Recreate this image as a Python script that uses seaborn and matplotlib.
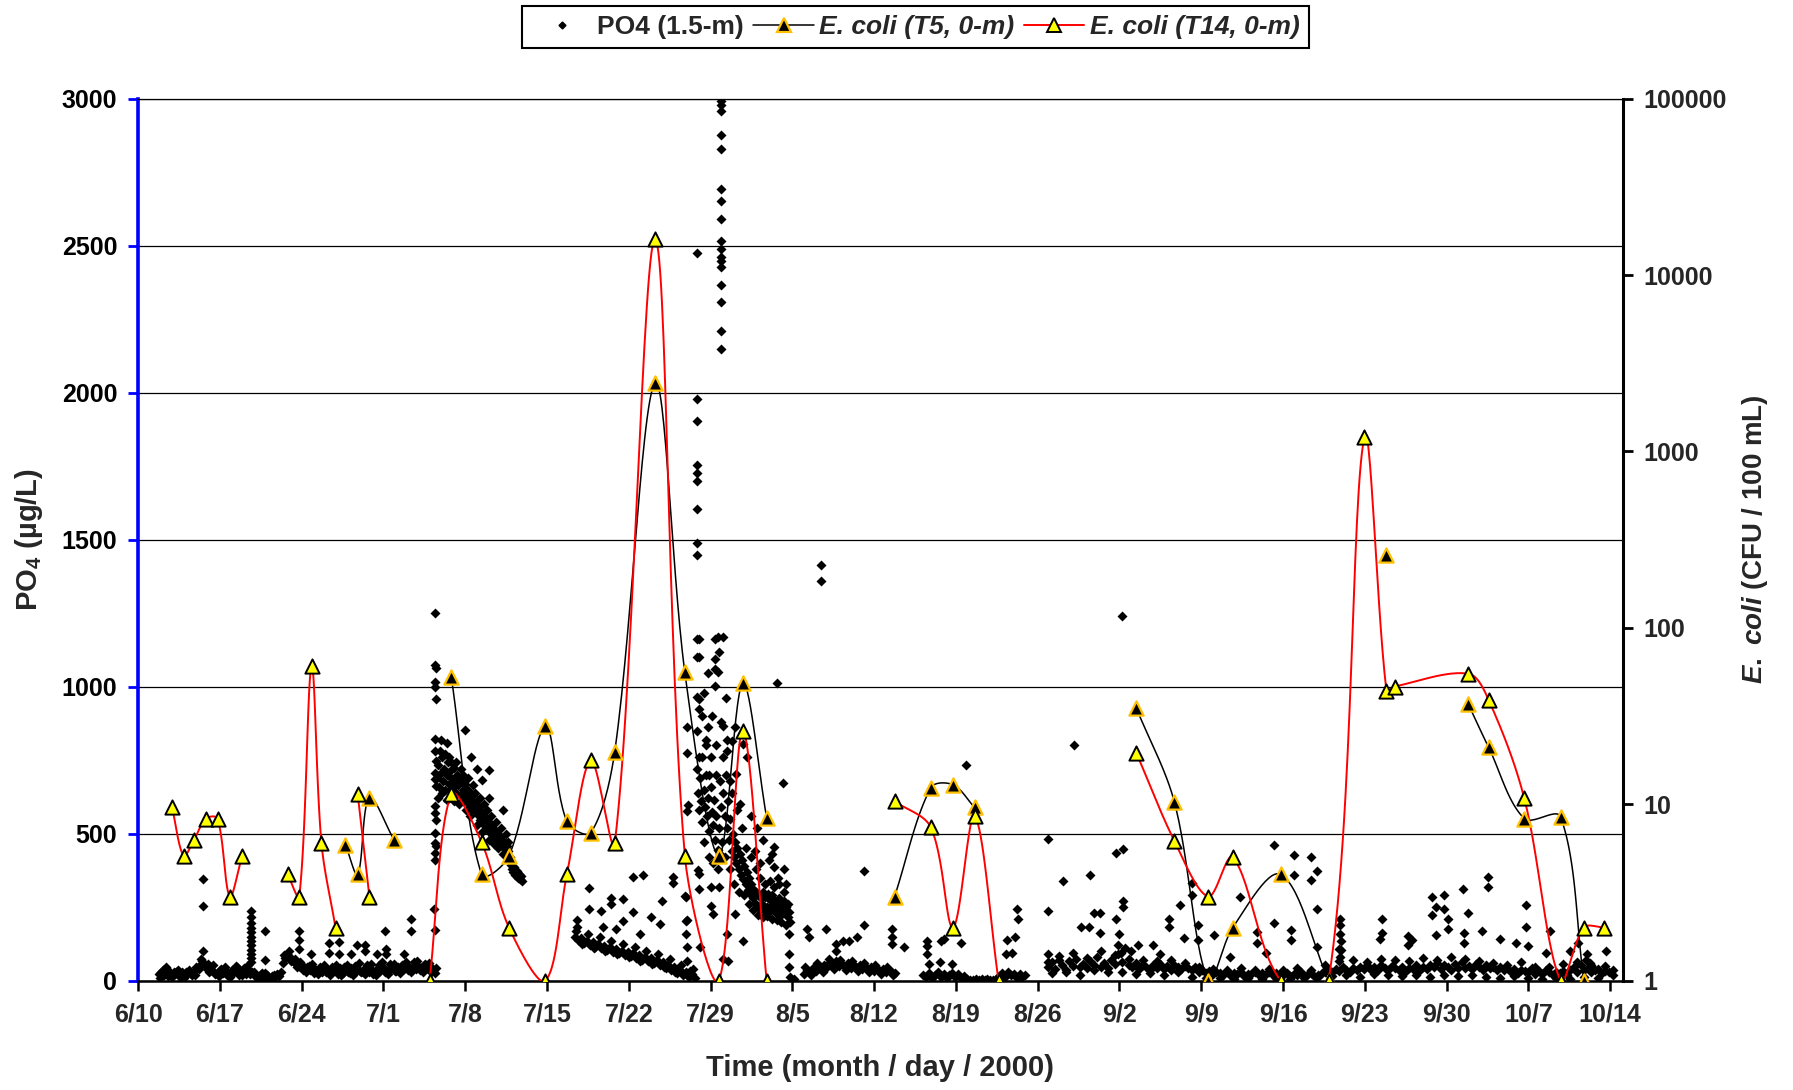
import numpy as np
import pandas as pd
import matplotlib
matplotlib.use("Agg")
import matplotlib.pyplot as plt
from matplotlib.lines import Line2D
from matplotlib.ticker import FixedLocator, FixedFormatter, NullLocator
import seaborn as sns

# ------------------------------------------------------------------
# Data (time axis = days after June 10, 2000)
# ------------------------------------------------------------------
date_ticks = [0, 7, 14, 21, 28, 35, 42, 49, 56, 63, 70, 77, 84, 91, 98, 105, 112, 119, 126]
date_labels = ["6/10", "6/17", "6/24", "7/1", "7/8", "7/15", "7/22", "7/29", "8/5", "8/12",
               "8/19", "8/26", "9/2", "9/9", "9/16", "9/23", "9/30", "10/7", "10/14"]
po4_ticks = [0, 500, 1000, 1500, 2000, 2500, 3000]
cfu_ticks = [1, 10, 100, 1000, 10000, 100000]
cfu_labels = ["1", "10", "100", "1000", "10000", "100000"]

# E. coli, station T14 (0 m); run = continuous sampling stretch
t14_day = [2.9, 3.9, 4.8, 5.8, 6.8, 7.85, 8.9,
           12.8, 13.8, 14.85, 15.7, 16.9,
           18.8, 19.8,
           24.95, 26.8, 29.4, 31.75, 34.85, 36.7, 38.75, 40.8, 44.25, 46.8, 49.7, 51.75, 53.8,
           64.75, 67.85, 69.75, 71.6, 73.65,
           85.45, 88.7, 91.6, 93.7, 97.8, 101.9, 104.95, 106.85, 107.55, 113.85, 115.6,
           118.65, 121.75, 123.75, 125.5]
t14_cfu = [9.7, 5.1, 6.3, 8.3, 8.3, 3.0, 5.1,
           4.0, 3.0, 61, 6.0, 2.0,
           11.4, 3.0,
           1, 11.4, 6.1, 2.0, 1, 4.0, 17.8, 6.0, 15960, 5.1, 1, 26, 1,
           10.4, 7.4, 2.0, 8.6, 1,
           19.5, 6.2, 3.0, 5.0, 1, 1, 1200, 44, 46.5, 55, 39,
           10.8, 1, 2.0, 2.0]
t14_run = [1] * 7 + [2] * 5 + [3] * 2 + [4] * 13 + [5] * 5 + [6] * 15

# E. coli, station T5 (0 m)
t5_day = [17.75, 18.8, 19.8, 21.9,
          26.8, 29.4, 31.75, 34.85, 36.7, 38.75, 40.8, 44.25, 46.8, 49.7, 51.75, 53.8,
          64.75, 67.85, 69.75, 71.6,
          85.45, 88.7, 91.6, 93.7, 97.8, 101.9,
          106.85,
          113.85, 115.6, 118.65, 121.75, 123.75]
t5_cfu = [5.9, 4.0, 10.9, 6.3,
          53, 4.0, 5.1, 27.6, 8.0, 6.9, 19.9, 2440, 56, 5.1, 48.5, 8.4,
          3.0, 12.4, 12.9, 9.6,
          35, 10.3, 1, 2.0, 4.0, 1,
          260,
          37, 21, 8.3, 8.5, 1]
t5_run = [1] * 4 + [2] * 12 + [3] * 4 + [4] * 6 + [5] + [6] * 5

# PO4 sonde record (1.5 m), regular logging stretches: (first day, interval in days, values)
po4_jun = [22, 31, 18, 40, 26, 19, 28, 22, 30, 20,
           26, 24, 33, 48, 40, 66, 52, 58, 38, 30,
           24, 36, 27, 33, 22, 38, 29, 45, 26, 31,
           24, 35, 28, 20, 14, 22, 10, 18, 8, 15,
           12, 20, 30, 88, 92, 80, 66, 58, 49, 52,
           42, 47, 38, 44, 35, 41, 30, 46, 34, 28,
           39, 31, 44, 27, 36, 30, 42, 26, 38, 33,
           29, 45, 31, 37, 28, 42, 34, 48, 30, 39,
           44, 33, 47, 36, 41, 52, 38, 46, 40, 49,
           42, 55, 44, 50, 38, 42]
po4_jun_b = [8, 45, 12, 38, 10, 35, 20, 75, 40, 55,
             15, 48, 14, 50, 18, 52, 30, 8, 25, 5,
             22, 60, 100, 75, 62, 28, 58, 22, 55, 20,
             52, 18, 55, 20, 60, 22, 56, 18, 62, 24,
             58, 25, 64, 30, 66, 28, 60, 25]
po4_jun_c = [35, 15, 30, 12, 28, 18, 45, 60, 30, 22,
             40, 20, 35, 18, 42, 22, 12, 25, 6, 18,
             15, 78, 68, 45, 35, 50, 25, 48, 28, 45,
             22, 48, 25, 50, 28, 55, 24, 52, 30, 58,
             32, 55, 35, 62, 38, 58, 30]
po4_jul_a = [690, 735, 660, 705, 760, 680, 720, 650, 700, 745,
             670, 712, 690, 655, 725, 680, 640, 700, 665, 690,
             630, 675, 650, 610, 668, 625, 648, 600, 640, 615,
             580, 630, 596, 572, 610, 565, 590, 545, 575, 540,
             560, 525, 552, 515, 540, 505, 528, 495, 520, 485,
             505, 478, 498, 470, 488, 460, 475, 450, 468, 445,
             458, 440, 420, 395, 380, 368, 385, 360, 372, 350,
             362, 345, 355, 338]
po4_jul_a2 = [620, 780, 640, 770, 615, 760, 740, 610, 745, 600,
              720, 700, 580, 690, 560, 665, 640, 530, 620, 505,
              600, 580, 480, 560, 465, 540, 450, 520, 430, 500, 470]
po4_jul_b = [150, 138, 145, 128, 136, 122, 131, 116, 124, 110,
             119, 105, 113, 98, 107, 95, 102, 88, 97, 84,
             93, 78, 88, 72, 82, 66, 76, 60, 70, 52,
             62, 44, 55, 35, 45, 25, 38, 18, 28, 12,
             22, 8]
po4_jul_b2 = [170, 125, 160, 112, 150, 100, 135, 90, 125, 80,
              115, 68, 100, 58, 90, 45, 75, 30, 55, 18, 40]
po4_jul_c = [720, 640, 580, 690, 610, 540, 650, 590, 700, 560,
             620, 510, 660, 575, 530, 615, 480, 560, 445, 520,
             430, 590, 470, 640, 560, 700, 520, 610, 480, 550,
             440, 500, 420, 470, 400, 450, 380, 430, 360, 410,
             345, 390, 330, 370, 310, 350, 295, 330, 280, 310,
             265, 300, 255, 290, 245, 280, 260, 300, 240, 285,
             250, 295, 235, 275, 255, 290, 240, 270, 230, 265,
             245, 280, 225, 260, 240, 270, 230, 250, 215, 235,
             200]
po4_jul_c2 = [850, 760, 900, 470, 800, 420, 760, 400, 700, 380,
              680, 760, 420, 820, 380, 640, 330, 580, 300, 520,
              290, 450, 260, 420, 240, 380, 225, 350, 215, 330,
              220, 340, 210, 320, 205, 330, 200, 300, 190, 260]
po4_aug_a = [22, 35, 28, 42, 33, 46, 38, 55, 48, 64,
             52, 66, 49, 58, 46, 60, 44, 55, 42, 52,
             39, 50, 36, 47, 33, 44, 30, 41, 28, 38,
             30, 26]
po4_aug_a2 = [45, 18, 60, 30, 75, 40, 70, 38, 66, 32,
              60, 28, 55, 22, 48, 20]
po4_aug_b = [20, 12, 25, 9, 18, 28, 14, 22, 10, 19,
             26, 13, 21, 8, 16, 6, 3, 1, 5, 2,
             4, 1, 6, 2, 3, 5, 15, 26, 12, 30,
             18, 24, 10, 22, 14, 20]
po4_sep = [48, 62, 40, 70, 55, 38, 66, 50, 74, 45,
           58, 42, 68, 52, 80, 47, 60, 44, 72, 56,
           90, 64, 110, 52, 48, 60, 40, 55, 46, 38,
           52, 44, 58, 40, 50, 36, 54, 45, 39, 50,
           42, 35, 47, 30, 38, 26, 33, 22, 30, 25,
           20, 28, 18, 26, 22, 30, 17, 24, 21, 28,
           19, 25, 22, 30, 18, 27, 23, 20, 26, 17,
           24, 20, 28, 16, 22, 26, 14, 20, 25, 30,
           35, 28, 40, 33, 45, 38, 30, 42, 36, 48,
           40, 52, 35, 46, 38, 55, 42, 36, 50, 44,
           38, 48, 34, 44, 40, 52, 37, 46, 41, 55,
           45, 60, 40, 52, 48, 38, 56, 44, 62, 42,
           50, 40, 58, 45, 36, 52, 42, 48, 38, 46,
           35, 44, 30, 40, 26, 38, 33, 28, 42, 24,
           32, 22, 36, 28, 18, 30, 25, 34, 20, 38,
           45, 30, 52, 38, 42, 28, 36, 40, 26, 34,
           30, 36]
po4_sep_b = [25, 85, 30, 95, 20, 78, 35, 100, 28, 88,
             30, 75, 22, 70, 25, 66, 20, 72, 28, 60,
             12, 45, 8, 40, 10, 36, 6, 42, 9, 38,
             7, 40, 10, 35, 5, 44, 8, 38, 12, 55,
             15, 68, 20, 72, 14, 65, 22, 75, 18, 70,
             16, 66, 20, 78, 12, 70, 18, 82, 15, 75,
             18, 68, 12, 60, 10, 55, 15, 62, 8, 48,
             6, 45, 10, 58, 5, 62, 12, 55, 8, 50,
             20]

po4_runs = [(1.75, 0.25, po4_jun), (1.9, 0.5, po4_jun_b), (2.1, 0.5, po4_jun_c),
            (25.6, 0.1, po4_jul_a), (25.65, 0.2, po4_jul_a2),
            (37.4, 0.25, po4_jul_b), (37.5, 0.5, po4_jul_b2),
            (47.8, 0.1, po4_jul_c), (47.85, 0.2, po4_jul_c2),
            (57.0, 0.25, po4_aug_a), (57.1, 0.5, po4_aug_a2), (67.2, 0.25, po4_aug_b),
            (77.9, 0.3, po4_sep), (78.2, 0.6, po4_sep_b)]

# PO4 isolated readings (day, ug/L)
spikes_jun = [(5.57, 345), (5.57, 255), (5.57, 100),
              (9.68, 238), (9.68, 215), (9.68, 196), (9.68, 180), (9.68, 165), (9.68, 150),
              (9.68, 136), (9.68, 120), (9.68, 106), (9.68, 92), (9.68, 78), (9.68, 64),
              (10.88, 170), (10.88, 71), (13.79, 168), (13.79, 138), (13.79, 108), (14.76, 91),
              (16.35, 127), (16.35, 93), (17.21, 133), (17.21, 91), (18.24, 91), (18.75, 121),
              (19.43, 121), (19.43, 100), (20.46, 91), (21.14, 168), (21.2, 108), (21.2, 91),
              (22.74, 91), (23.4, 210), (23.4, 168)]
spikes_jul = [(25.45, 1251), (25.4, 1073), (25.5, 1062), (25.45, 1016), (25.4, 999), (25.5, 959),
              (25.45, 822), (25.4, 782), (25.5, 748), (25.45, 708), (25.4, 685), (25.5, 662),
              (25.45, 594), (25.4, 571), (25.5, 548), (25.45, 502), (25.4, 468), (25.5, 457),
              (25.45, 434), (25.4, 411), (25.35, 245), (25.45, 171),
              (27.96, 854), (30.07, 716), (29.44, 681), (31.2, 580), (30.07, 622), (25.9, 820),
              (26.4, 810), (28.5, 760), (29.0, 720),
              (38.56, 314), (38.6, 244), (39.59, 236), (40.5, 280), (40.5, 262), (41.5, 277),
              (41.5, 203), (42.35, 232), (42.35, 354), (43.2, 360), (43.87, 217), (44.84, 272),
              (45.75, 354), (45.75, 331), (46.84, 288), (46.98, 208), (47.9, 377), (37.56, 205),
              (37.56, 183), (39.8, 183), (44.7, 194), (40.9, 175), (43.0, 160),
              (47.85, 2476), (47.85, 1979), (47.85, 1903), (47.85, 1754), (47.85, 1726),
              (47.85, 1701), (47.85, 1604), (47.85, 1490), (47.85, 1448), (47.85, 1163),
              (47.85, 1102), (47.85, 966),
              (49.9, 2993), (49.9, 2977), (49.9, 2958), (49.9, 2876), (49.9, 2829), (49.9, 2693),
              (49.9, 2651), (49.9, 2591), (49.9, 2517), (49.9, 2489), (49.9, 2463), (49.9, 2448),
              (49.9, 2428), (49.9, 2366), (49.9, 2309), (49.9, 2211), (49.9, 2149),
              (49.4, 1163), (49.4, 1095), (49.4, 1060), (49.7, 1117), (49.6, 1170), (49.6, 1050),
              (48.0, 1162), (48.0, 1100), (50.1, 1170), (48.8, 1045), (49.4, 1003), (48.0, 958),
              (48.0, 924), (48.8, 862), (50.1, 867), (47.0, 862), (47.0, 773), (47.1, 599),
              (47.0, 576), (48.0, 363), (48.0, 312), (49.0, 317), (49.7, 317), (49.0, 255),
              (49.25, 227), (48.1, 113), (50.1, 74), (46.9, 283), (46.9, 204), (46.9, 159),
              (47.0, 113), (47.0, 68), (47.26, 34)]
spikes_aug = [(55.2, 671), (54.7, 1011), (54.4, 453), (54.3, 431), (54.4, 385), (51.1, 227),
              (51.8, 136), (50.4, 159), (50.5, 68), (55.75, 159), (55.75, 91), (55.75, 45),
              (50.4, 782), (50.8, 816), (51.1, 862), (51.8, 805), (52.1, 760), (51.2, 703),
              (48.4, 980), (48.6, 820), (49.1, 900), (48.3, 760), (48.9, 700), (49.5, 800),
              (49.9, 880), (50.3, 960), (50.7, 680), (51.5, 600), (52.5, 560), (53.0, 520),
              (52.8, 440), (53.5, 480), (53.2, 400), (54.0, 410), (54.8, 350), (55.3, 380),
              (55.5, 330), (55.8, 11), (56.16, 6),
              (58.44, 1415), (58.44, 1361), (57.27, 175), (57.43, 147), (58.86, 175),
              (59.72, 125), (59.72, 102), (60.3, 136), (60.87, 136), (61.5, 147), (62.14, 188),
              (62.14, 374), (64.5, 175), (64.5, 147), (64.5, 125), (65.58, 113),
              (67.5, 136), (67.5, 119), (67.5, 91), (68.7, 136), (69.0, 142), (70.4, 128),
              (67.7, 57), (68.6, 62), (69.7, 57), (74.3, 91), (75.2, 244), (75.3, 210),
              (75.1, 147), (70.9, 732)]
spikes_sep = [(84.19, 1239), (80.08, 803), (77.86, 482), (83.7, 434), (84.27, 449), (79.2, 339),
              (81.45, 358), (77.86, 236), (74.4, 140), (74.8, 93), (81.4, 182), (81.85, 230),
              (82.3, 230), (82.3, 161), (83.7, 210), (84.27, 270), (84.27, 252), (85.55, 122),
              (86.9, 122), (88.26, 210), (88.26, 182), (89.2, 258), (89.5, 144), (90.2, 332),
              (90.2, 290), (90.7, 191), (90.7, 139), (92.06, 156), (94.3, 284), (95.8, 167),
              (95.8, 127), (97.2, 195), (97.2, 460), (98.9, 426), (98.9, 358), (98.7, 174),
              (98.7, 140), (77.86, 91), (77.86, 62), (83.9, 120), (84.0, 160), (84.1, 95),
              (85.0, 100), (87.5, 90), (93.5, 80), (96.5, 95), (80.7, 181)]
spikes_oct = [(100.36, 420), (100.36, 341), (100.87, 373), (100.87, 244), (100.87, 114),
              (102.86, 210), (102.86, 188), (102.86, 159), (102.78, 108), (103.0, 134),
              (103.0, 106), (102.9, 80), (106.5, 210), (106.5, 161), (106.34, 141),
              (108.73, 153), (109.07, 140), (108.73, 122), (110.78, 284), (110.78, 223),
              (111.1, 250), (111.1, 157), (111.8, 290), (111.8, 243), (112.15, 209),
              (112.15, 175), (113.38, 311), (113.86, 230), (113.52, 161), (113.52, 127),
              (115.06, 168), (115.57, 352), (115.57, 318), (116.6, 141), (117.96, 128),
              (118.82, 256), (118.82, 182), (119.0, 119), (120.87, 168), (120.53, 93),
              (122.58, 100), (123.26, 127), (125.66, 100), (124.0, 90), (123.9, 70), (124.3, 60)]

# ------------------------------------------------------------------
# Figure geometry used for curve smoothing (pixels per day / per decade)
# ------------------------------------------------------------------
FIG_W, FIG_H, DPI = 17.93, 10.90, 100
AX_RECT = [0.0770, 0.1003, 0.8282, 0.8092]
X_MAX = 127.1
PX_PER_DAY = AX_RECT[2] * FIG_W * DPI / X_MAX
PX_PER_DECADE = AX_RECT[3] * FIG_H * DPI / 5.0


def smooth_run(x, y, n=30, tension=1.0 / 3.0):
    """Distance-weighted Bezier smoothing through the points (screen space)."""
    pts = np.column_stack([np.asarray(x) * PX_PER_DAY, np.asarray(y) * PX_PER_DECADE])
    m = len(pts)
    if m < 2:
        return pts / [PX_PER_DAY, PX_PER_DECADE]
    before = pts.copy()
    after = pts.copy()
    for i in range(m):
        prev_p = pts[i - 1] if i > 0 else pts[i]
        next_p = pts[i + 1] if i < m - 1 else pts[i]
        d1 = np.hypot(*(pts[i] - prev_p))
        d2 = np.hypot(*(next_p - pts[i]))
        tot = d1 + d2
        if tot == 0:
            continue
        vec = next_p - prev_p
        before[i] = pts[i] - vec * tension * d1 / tot
        after[i] = pts[i] + vec * tension * d2 / tot
    t = np.linspace(0, 1, n)[:, None]
    out = []
    for i in range(m - 1):
        p1, c1, c2, p2 = pts[i], after[i], before[i + 1], pts[i + 1]
        seg = ((1 - t) ** 3) * p1 + 3 * ((1 - t) ** 2) * t * c1 + 3 * (1 - t) * t ** 2 * c2 + t ** 3 * p2
        out.append(seg if i == 0 else seg[1:])
    return np.vstack(out) / [PX_PER_DAY, PX_PER_DECADE]


def curve_frame(days, cfu, runs):
    df = pd.DataFrame({"day": days, "cfu": cfu, "run": runs})
    parts = []
    for r, g in df.groupby("run", sort=False):
        if len(g) < 2:
            continue
        c = smooth_run(g["day"].values, np.log10(g["cfu"].values))
        parts.append(pd.DataFrame({"day": c[:, 0], "cfu": 10 ** c[:, 1], "run": r}))
    return pd.concat(parts, ignore_index=True)


po4 = pd.concat(
    [pd.DataFrame({"day": s + d * np.arange(len(v)), "po4": v}) for s, d, v in po4_runs]
    + [pd.DataFrame(sp, columns=["day", "po4"]) for sp in
       (spikes_jun, spikes_jul, spikes_aug, spikes_sep, spikes_oct)],
    ignore_index=True)

t14 = pd.DataFrame({"day": t14_day, "cfu": t14_cfu})
t5 = pd.DataFrame({"day": t5_day, "cfu": t5_cfu})
t14_curve = curve_frame(t14_day, t14_cfu, t14_run)
t5_curve = curve_frame(t5_day, t5_cfu, t5_run)

# ------------------------------------------------------------------
# Figure
# ------------------------------------------------------------------
sns.set_style("white")
plt.rcParams["font.family"] = ["Liberation Sans", "DejaVu Sans"]
plt.rcParams["font.weight"] = "bold"
plt.rcParams["mathtext.fontset"] = "custom"
plt.rcParams["mathtext.rm"] = "Liberation Sans:bold"
plt.rcParams["mathtext.it"] = "Liberation Sans:italic:bold"
plt.rcParams["mathtext.bf"] = "Liberation Sans:bold"

GOLD = "#FFC000"
YELLOW = "#FFFF00"
BLUE = "#0000FF"

fig = plt.figure(figsize=(FIG_W, FIG_H), dpi=DPI)
fig.patch.set_facecolor("white")
ax = fig.add_axes(AX_RECT)

sns.scatterplot(data=po4, x="day", y="po4", ax=ax, marker="D", s=26, color="black",
                linewidth=0, legend=False, zorder=3)

ax.set_xlim(0, X_MAX)
ax.set_ylim(0, 3000)
ax.xaxis.set_major_locator(FixedLocator(date_ticks))
ax.xaxis.set_major_formatter(FixedFormatter(date_labels))
ax.yaxis.set_major_locator(FixedLocator(po4_ticks))
ax.yaxis.grid(True, color="black", linewidth=0.9)
ax.xaxis.grid(False)
ax.set_xlabel("")
ax.set_ylabel("")
ax.spines["left"].set_color(BLUE)
ax.spines["left"].set_linewidth(2.6)
ax.spines["bottom"].set_color("black")
ax.spines["bottom"].set_linewidth(1.8)
ax.spines["top"].set_visible(True)
ax.spines["top"].set_color("black")
ax.spines["top"].set_linewidth(0.9)
ax.spines["right"].set_visible(False)
ax.tick_params(axis="y", which="major", direction="out", length=7, width=2.0,
               color=BLUE, labelcolor="black", labelsize=18, pad=8, left=True)
ax.tick_params(axis="x", which="major", direction="out", length=7, width=1.8,
               color="black", labelsize=18, pad=9, bottom=True)

ax2 = ax.twinx()
ax2.set_yscale("log")
sns.lineplot(data=t5_curve, x="day", y="cfu", units="run", estimator=None, sort=False,
             color="black", linewidth=1.1, ax=ax2, legend=False, zorder=4)
sns.lineplot(data=t14_curve, x="day", y="cfu", units="run", estimator=None, sort=False,
             color="red", linewidth=1.4, ax=ax2, legend=False, zorder=5)
sns.scatterplot(data=t5, x="day", y="cfu", ax=ax2, marker="^", s=105, color="black",
                edgecolor=GOLD, linewidth=1.6, legend=False, zorder=6)
sns.scatterplot(data=t14, x="day", y="cfu", ax=ax2, marker="^", s=105, color=YELLOW,
                edgecolor="black", linewidth=1.4, legend=False, zorder=7)

ax2.set_ylim(1, 1e5)
ax2.set_xlim(0, X_MAX)
ax2.yaxis.set_major_locator(FixedLocator(cfu_ticks))
ax2.yaxis.set_major_formatter(FixedFormatter(cfu_labels))
ax2.yaxis.set_minor_locator(NullLocator())
ax2.set_ylabel("")
ax2.set_xlabel("")
for side in ("left", "top", "bottom"):
    ax2.spines[side].set_visible(False)
ax2.spines["right"].set_color("black")
ax2.spines["right"].set_linewidth(2.2)
ax2.tick_params(axis="y", which="major", direction="out", length=7, width=2.0,
                color="black", labelsize=18, pad=8, right=True)
ax2.grid(False)

# axis titles
fig.text(0.016, 0.505, r"PO$_{\mathrm{4}}$ (µg/L)", rotation=90, ha="center", va="center",
         fontsize=21, fontweight="bold")
fig.text(0.979, 0.505, r"$\mathit{E.\ coli}$ (CFU / 100 mL)", rotation=90, ha="center",
         va="center", fontsize=20, fontweight="bold")
fig.text(0.491, 0.020, "Time (month / day / 2000)", ha="center", va="center",
         fontsize=21, fontweight="bold")

# legend
handles = [
    Line2D([], [], linestyle="none", marker="D", markersize=3.5, color="black"),
    Line2D([], [], color="black", linewidth=1.1, marker="^", markersize=10,
           markerfacecolor="black", markeredgecolor=GOLD, markeredgewidth=1.6),
    Line2D([], [], color="red", linewidth=1.4, marker="^", markersize=10,
           markerfacecolor=YELLOW, markeredgecolor="black", markeredgewidth=1.4),
]
labels = ["PO4 (1.5-m)", "E. coli (T5, 0-m)", "E. coli (T14, 0-m)"]
leg = fig.legend(handles, labels, loc="center", bbox_to_anchor=(0.5106, 0.975), ncol=3,
                 frameon=True, fancybox=False, framealpha=1, edgecolor="black",
                 handlelength=2.3, handletextpad=0.2, columnspacing=0.35, borderpad=0.35,
                 prop={"weight": "bold", "size": 19})
leg.get_frame().set_linewidth(1.5)
for txt in leg.get_texts()[1:]:
    txt.set_fontstyle("italic")

fig.savefig("out.png", dpi=DPI, facecolor="white")
